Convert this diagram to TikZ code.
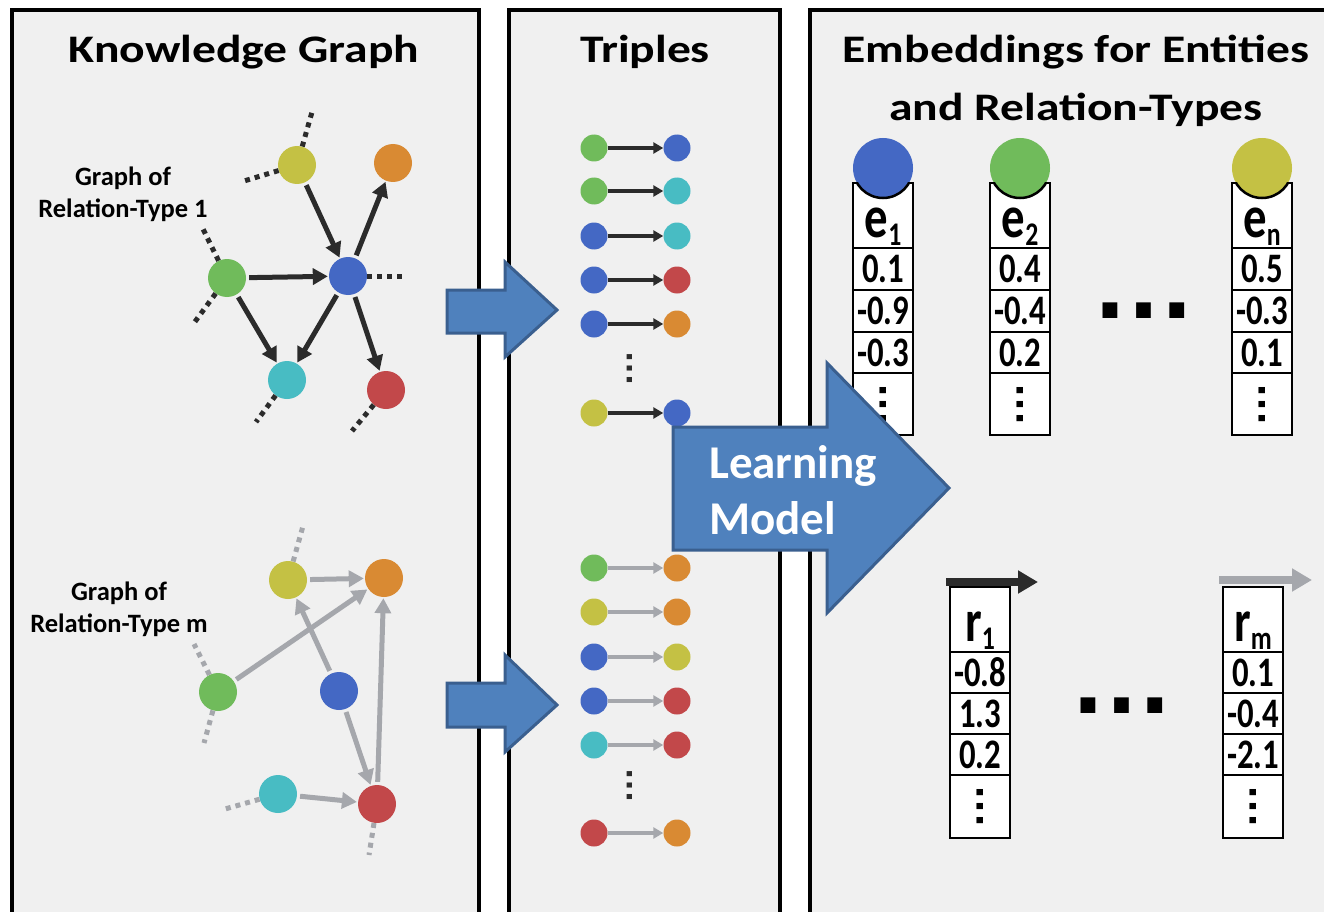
\documentclass[tikz,border=0pt]{standalone}
\usepackage{fontspec}
\usepackage{graphicx}
\setmainfont{Carlito}
\newfontfamily\narrowfont[FakeStretch=0.78]{Carlito}
\newfontfamily\widefont[FakeStretch=1.22]{Carlito}
\newfontfamily\dotfont{Liberation Sans}
\usetikzlibrary{arrows.meta,positioning}

\definecolor{entblue}{HTML}{4468C4}
\definecolor{entgreen}{HTML}{70BB5B}
\definecolor{entyellow}{HTML}{C4C144}
\definecolor{entorange}{HTML}{D98A33}
\definecolor{entcyan}{HTML}{48BCC3}
\definecolor{entred}{HTML}{C2484A}
\definecolor{dkarrow}{HTML}{2B2B2B}
\definecolor{ltarrow}{HTML}{A5A7AC}
\definecolor{panelgray}{HTML}{F0F0F0}
\definecolor{blockblue}{HTML}{4F81BD}
\definecolor{blockedge}{HTML}{3A5F8F}

\newcommand\lowsub[1]{\raisebox{-8pt}{\fontsize{33}{33}\selectfont #1}}

\begin{document}
\begin{tikzpicture}[x=1pt,y=-1pt]
\tikzset{ent/.style={circle,fill=#1,minimum size=38pt,inner sep=0pt},
  tri/.style={circle,fill=#1,minimum size=27pt,inner sep=0pt},
  edge/.style={line width=5pt,draw=#1,-{Triangle[length=15pt,width=16pt]},shorten >=1pt,shorten <=3pt},
  triarrow/.style={line width=3.5pt,draw=#1,-{Triangle[length=10pt,width=11pt]}},
  stub/.style={line width=5pt,draw=#1,dash pattern=on 5pt off 5pt},
  panel/.style={draw=black,line width=4pt,fill=panelgray},
  cell/.style={draw=black,line width=2.5pt,fill=white,minimum width=60pt,inner sep=0pt,outer sep=0pt,font=\narrowfont\bfseries\fontsize{42}{42}\selectfont},
  vdots/.style={font=\dotfont\bfseries\fontsize{#1}{#1}\selectfont,inner sep=0pt},
  block/.style={fill=blockblue,draw=blockedge,line width=3pt,line join=miter},
  title/.style={font=\widefont\bfseries\fontsize{39}{39}\selectfont,anchor=base,inner sep=0pt}}
\useasboundingbox[fill=white] (0,0) rectangle (1324,912);
\clip (0,0) rectangle (1324,912);

% panels
\draw[panel] (12,10) rectangle (479,940);
\draw[panel] (509,10) rectangle (780,940);
\draw[panel] (810,10) rectangle (1345,940);
\node[title] (kgtitle) at (244,63) {Knowledge Graph};
\node[title] (trtitle) at (645,63) {Triples};
\node[title] (emtitle) at (1076,63) {Embeddings for Entities};
\node[title] (emtitle2) at (1076,121) {and Relation-Types};

% graph of relation-type 1
\node[font=\bfseries\fontsize{26.5}{32}\selectfont,align=center] (lab1) at (123,194) {Graph of\\Relation-Type 1};
\node[ent=entyellow] (ay) at (297,165) {};
\node[ent=entorange] (ao) at (393,163) {};
\node[ent=entgreen] (ag) at (227,278) {};
\node[ent=entblue] (ab) at (348,276) {};
\node[ent=entcyan] (ac) at (287,380) {};
\node[ent=entred] (ar) at (386,390) {};
\draw[edge=dkarrow] (ay) -- (ab);
\draw[edge=dkarrow] (ab) -- (ao);
\draw[edge=dkarrow] (ag) -- (ab);
\draw[edge=dkarrow] (ag) -- (ac);
\draw[edge=dkarrow] (ab) -- (ac);
\draw[edge=dkarrow] (ab) -- (ar);
\coordinate (s1) at (312,112);
\coordinate (s2) at (244,181);
\coordinate (s3) at (203,229);
\coordinate (s4) at (194,323);
\coordinate (s5) at (403,276);
\coordinate (s6) at (256,422);
\coordinate (s7) at (352,431);
\draw[stub=dkarrow] (ay) -- (s1);
\draw[stub=dkarrow] (ay) -- (s2);
\draw[stub=dkarrow] (ag) -- (s3);
\draw[stub=dkarrow] (ag) -- (s4);
\draw[stub=dkarrow] (ab) -- (s5);
\draw[stub=dkarrow] (ac) -- (s6);
\draw[stub=dkarrow] (ar) -- (s7);

% graph of relation-type m
\node[font=\bfseries\fontsize{26.5}{32}\selectfont,align=center] (labm) at (119,609) {Graph of\\Relation-Type m};
\node[ent=entyellow] (by) at (288,580) {};
\node[ent=entorange] (bo) at (384,578) {};
\node[ent=entgreen] (bg) at (218,692) {};
\node[ent=entblue] (bb) at (339,691) {};
\node[ent=entcyan] (bc) at (278,794) {};
\node[ent=entred] (br) at (377,804) {};
\draw[edge=ltarrow] (by) -- (bo);
\draw[edge=ltarrow] (bg) -- (bo);
\draw[edge=ltarrow] (bb) -- (by);
\draw[edge=ltarrow] (bb) -- (br);
\draw[edge=ltarrow] (br) -- (bo);
\draw[edge=ltarrow] (bc) -- (br);
\coordinate (u1) at (303,526);
\coordinate (u2) at (194,644);
\coordinate (u3) at (204,743);
\coordinate (u4) at (225,809);
\coordinate (u5) at (369,855);
\draw[stub=ltarrow] (by) -- (u1);
\draw[stub=ltarrow] (bg) -- (u2);
\draw[stub=ltarrow] (bg) -- (u3);
\draw[stub=ltarrow] (bc) -- (u4);
\draw[stub=ltarrow] (br) -- (u5);

% triples
\foreach \y/\a/\b [count=\i] in {148/entgreen/entblue,191/entgreen/entcyan,236/entblue/entcyan,280/entblue/entred,324/entblue/entorange,413/entyellow/entblue}{
  \node[tri=\a] (ta\i) at (594,\y) {};
  \node[tri=\b] (tb\i) at (677,\y) {};
  \draw[triarrow=dkarrow] (ta\i) -- (tb\i);
}
\foreach \y/\a/\b [count=\i] in {568/entgreen/entorange,612/entyellow/entorange,657/entblue/entyellow,701/entblue/entred,745/entcyan/entred,833/entred/entorange}{
  \node[tri=\a] (ua\i) at (594,\y) {};
  \node[tri=\b] (ub\i) at (677,\y) {};
  \draw[triarrow=ltarrow] (ua\i) -- (ub\i);
}
\node[vdots=36,text=dkarrow] (tdots) at (630,368) {\rotatebox{90}{…}};
\node[vdots=36,text=dkarrow] (udots) at (630,785) {\rotatebox{90}{…}};

% entity embeddings
\foreach \x/\c/\s/\va/\vb/\vc in {883/entblue/1/0.1/-0.9/-0.3,1020/entgreen/2/0.4/-0.4/0.2,1262/entyellow/n/0.5/-0.3/0.1}{
  \node[cell,minimum height=65pt,text height=44pt,text depth=0pt,font=\narrowfont\bfseries\fontsize{60}{60}\selectfont] (e\s) at (\x,215.5) {e\lowsub{\s}};
  \node[cell,minimum height=42pt,below=0pt of e\s] (e\s a) {\va};
  \node[cell,minimum height=42pt,below=0pt of e\s a] (e\s b) {\vb};
  \node[cell,minimum height=41pt,below=0pt of e\s b] (e\s c) {\vc};
  \node[cell,minimum height=62pt,below=0pt of e\s c,vdots=44] (e\s d) {\rotatebox{90}{…}};
  \fill[\c] (\x,168) circle (30);
  \begin{scope}
    \clip (e\s.north west) rectangle (e\s.south east);
    \draw[line width=2.5pt] (\x,168) circle (30);
  \end{scope}
}
\node[vdots=105] (edots) at (1144,311) {…};

% relation embeddings
\foreach \x/\c/\s/\va/\vb/\vc in {980/dkarrow/1/-0.8/1.3/0.2,1253/ltarrow/m/0.1/-0.4/-2.1}{
  \node[cell,minimum height=65pt,text height=44pt,text depth=0pt,font=\narrowfont\bfseries\fontsize{60}{60}\selectfont] (r\s) at (\x,619.5) {r\lowsub{\s}};
  \node[cell,minimum height=41pt,below=0pt of r\s] (r\s a) {\va};
  \node[cell,minimum height=41pt,below=0pt of r\s a] (r\s b) {\vb};
  \node[cell,minimum height=41pt,below=0pt of r\s b] (r\s c) {\vc};
  \node[cell,minimum height=63pt,below=0pt of r\s c,vdots=44] (r\s d) {\rotatebox{90}{…}};
}
\coordinate (r1from) at (946,582);
\coordinate (r1to) at (1038,582);
\coordinate (rmfrom) at (1219,580);
\coordinate (rmto) at (1312,580);
\draw[line width=8pt,dkarrow,-{Triangle[length=20pt,width=22pt]}] (r1from) -- (r1to);
\draw[line width=8pt,ltarrow,-{Triangle[length=20pt,width=22pt]}] (rmfrom) -- (rmto);
\node[vdots=105] (rdots) at (1122,706) {…};

% block arrows
\draw[block] (447,290) -- (505,290) -- (505,262) -- (557,310) -- (505,357) -- (505,333) -- (447,333) -- cycle;
\draw[block] (447,683) -- (505,683) -- (505,655) -- (557,705) -- (505,752) -- (505,727) -- (447,727) -- cycle;
\draw[block] (673,427) -- (827,427) -- (827,363) -- (949,488) -- (827,613) -- (827,550) -- (673,550) -- cycle;
\node[font=\bfseries\fontsize{47}{56}\selectfont,text=white,align=left,anchor=west,inner sep=0pt] (lm) at (709,490) {Learning\\Model};
\end{tikzpicture}
\end{document}
